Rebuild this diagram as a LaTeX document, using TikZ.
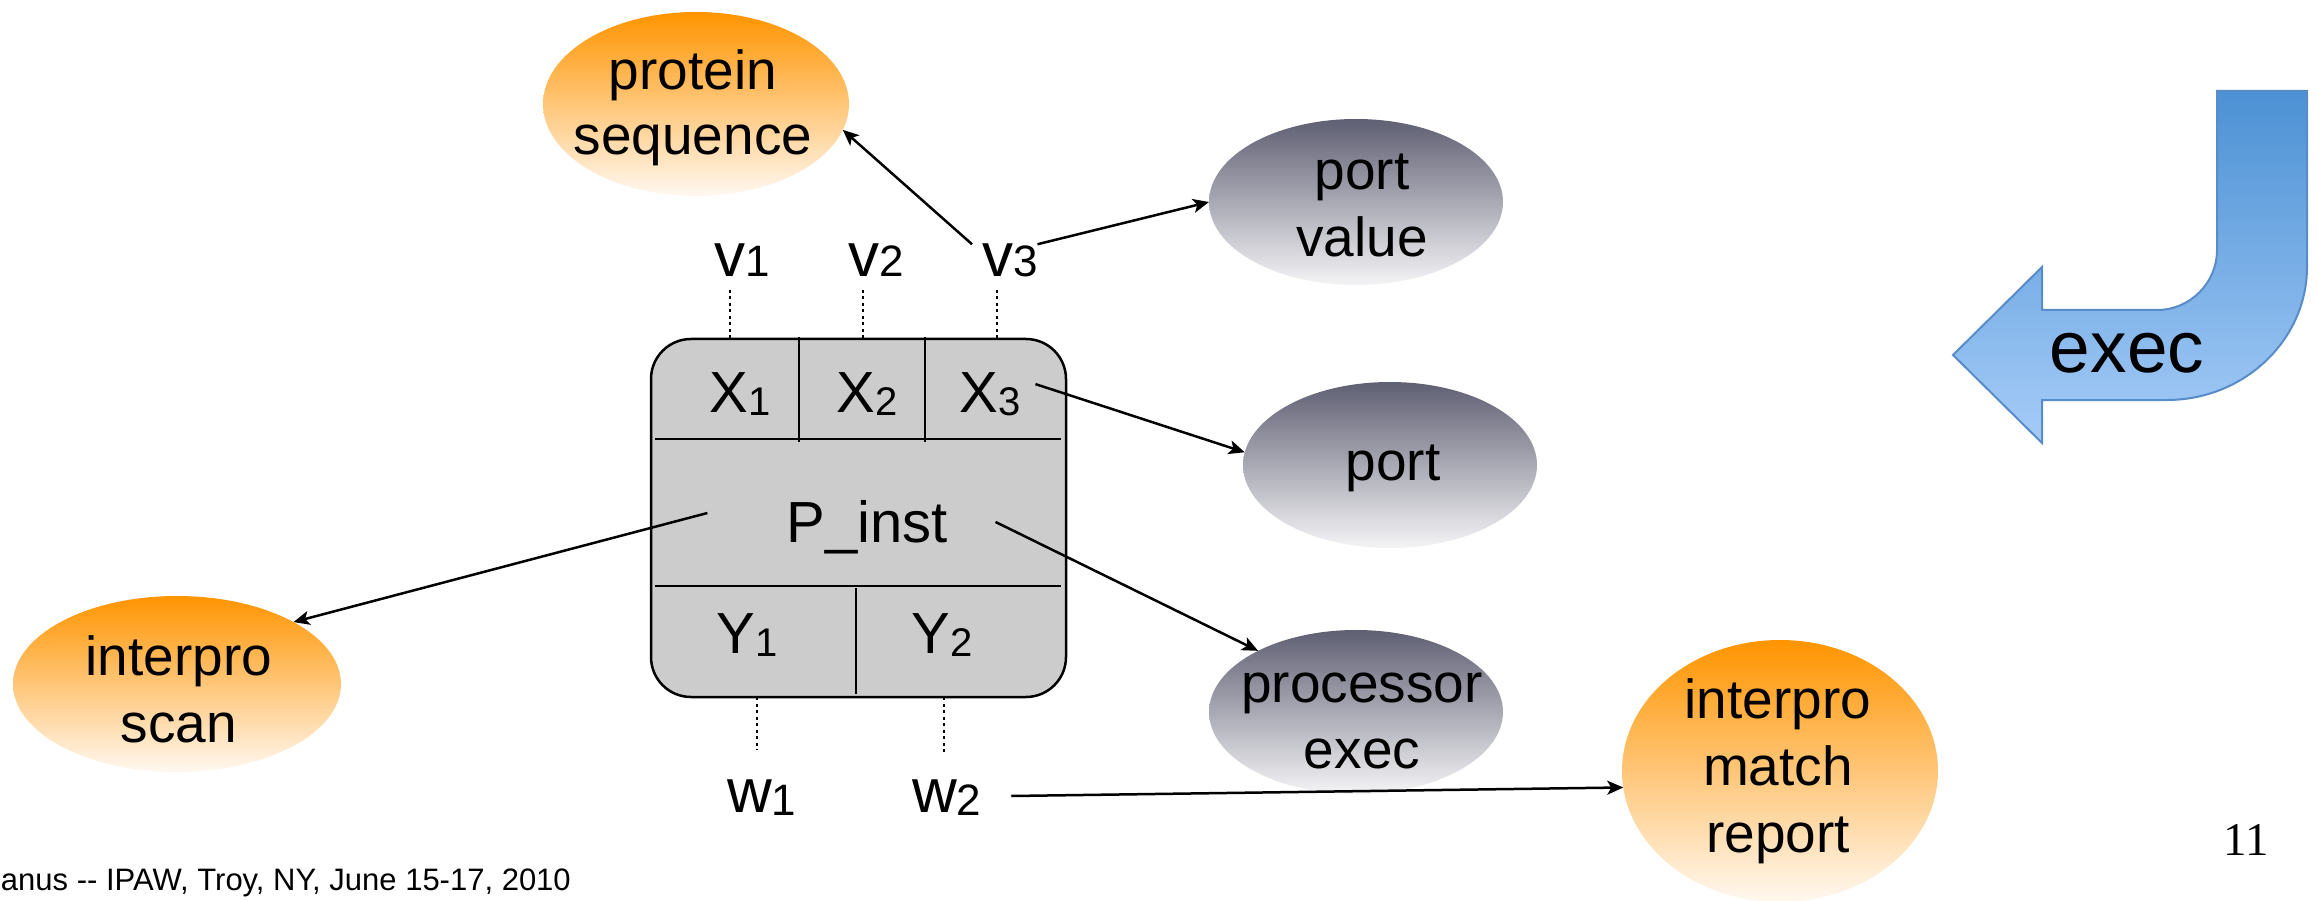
\documentclass[tikz,border=0pt]{standalone}
\usepackage{fontspec}
\setmainfont{Liberation Sans}
\newfontfamily\numfont{Liberation Serif}
\usetikzlibrary{arrows.meta,shapes.geometric}

\definecolor{orangeTop}{RGB}{255,148,0}
\definecolor{orangeBot}{RGB}{255,248,240}
\definecolor{slateTop}{RGB}{95,95,115}
\definecolor{slateBot}{RGB}{244,244,246}
\definecolor{blueTop}{RGB}{76,145,212}
\definecolor{blueBot}{RGB}{166,204,248}
\definecolor{blueEdge}{RGB}{88,140,200}
\definecolor{boxFill}{RGB}{204,204,204}

% index digit: #1 = lowering, #2 = size, #3 = digit
\newcommand\idx[3]{\raisebox{-#1pt}{\fontsize{#2}{#2}\selectfont #3}}

\begin{document}
\begin{tikzpicture}[x=1pt,y=-1pt,
  every node/.style={inner sep=0pt, outer sep=0pt},
  orangeblob/.style={ellipse, top color=orangeTop, bottom color=orangeBot, draw=none},
  slateblob/.style={ellipse, top color=slateTop, bottom color=slateBot, draw=none},
  blobtext/.style={anchor=base, font=\fontsize{55}{66}\selectfont},
  celltext/.style={anchor=base, font=\fontsize{58}{70}\selectfont},
  portname/.style={anchor=base west, font=\fontsize{62}{74}\selectfont},
  link/.style={line width=2.5pt, -{Stealth[length=16pt,width=14pt,inset=4pt]}},
  tie/.style={line width=2.5pt, dash pattern=on 3pt off 3.5pt},
  rule/.style={line width=2.5pt}
]
\useasboundingbox (0,0) rectangle (2322,901);
\clip (0,0) rectangle (2322,901);

% data and provenance ellipses
\node[orangeblob, minimum width=306pt, minimum height=184pt] (prot) at (696,104) {};
\node[slateblob, minimum width=294pt, minimum height=166pt] (pval) at (1356,202) {};
\node[slateblob, minimum width=294pt, minimum height=166pt] (port) at (1390,465) {};
\node[slateblob, minimum width=294pt, minimum height=164pt] (pexec) at (1356,712) {};
\node[orangeblob, minimum width=328pt, minimum height=176pt] (iscan) at (177,684) {};
\node[orangeblob, minimum width=316pt, minimum height=262pt] (imr) at (1780,771) {};

\node[blobtext] (protA) at (693,90) {protein};
\node[blobtext] (protB) at (693,155) {sequence};
\node[blobtext] (pvalA) at (1362,190) {port};
\node[blobtext] (pvalB) at (1362,257) {value};
\node[blobtext] (portA) at (1393,480) {port};
\node[blobtext] (pexecA) at (1362,702) {processor};
\node[blobtext] (pexecB) at (1362,768) {exec};
\node[blobtext] (iscanA) at (179,675) {interpro};
\node[blobtext] (iscanB) at (179,742) {scan};
\node[blobtext] (imrA) at (1778,718) {interpro};
\node[blobtext] (imrB) at (1778,785) {match};
\node[blobtext] (imrC) at (1778,852) {report};

% processor instance box
\node[draw, line width=2.5pt, fill=boxFill, rounded corners=40pt,
      minimum width=415pt, minimum height=358pt] (pbox) at (858.5,518) {};
\draw[rule] (655,439) -- (1061,439);
\draw[rule] (655,586) -- (1061,586);
\draw[rule] (799,337) -- (799,442);
\draw[rule] (925,337) -- (925,442);
\draw[rule] (856,588) -- (856,694);

\node[celltext] (x1) at (740,412) {X\idx{3}{40}{1}};
\node[celltext] (x2) at (867,412) {X\idx{3}{40}{2}};
\node[celltext] (x3) at (990,412) {X\idx{3}{40}{3}};
\node[celltext] (pinst) at (867,542) {P\_inst};
\node[celltext] (y1) at (747,653) {Y\idx{3}{40}{1}};
\node[celltext] (y2) at (942,653) {Y\idx{3}{40}{2}};

% port values
\node[portname] (v1) at (714,277) {v\idx{0}{44}{1}};
\node[portname] (v2) at (848,277) {v\idx{0}{44}{2}};
\node[portname] (v3) at (982,277) {v\idx{0}{44}{3}};
\node[portname] (w1) at (727,812) {w\idx{3}{44}{1}};
\node[portname] (w2) at (912,812) {w\idx{3}{44}{2}};

\draw[tie] (730,290) -- (730,0 |- pbox.north);
\draw[tie] (863,290) -- (863,0 |- pbox.north);
\draw[tie] (997,290) -- (997,0 |- pbox.north);
\draw[tie] (757,0 |- pbox.south) -- (757,750);
\draw[tie] (944,0 |- pbox.south) -- (944,752);

% relations
\draw[link] ([shift={(-10,0)}]v3.north west) -- (prot.-10);
\draw[link] (v3.north east) -- (pval.west);
\draw[link] ([shift={(15,12)}]x3.north east) -- (port.175);
\draw[link] ([shift={(-79,-29)}]pinst.base west) -- (iscan.28);
\draw[link] ([shift={(48,-20)}]pinst.base east) -- (pexec.148);
\draw[link] ([shift={(30,-16)}]w2.base east) -- (imr.186);

% bent exec arrow
\path[draw=blueEdge, line width=2pt, top color=blueTop, bottom color=blueBot]
  (2217,91) -- (2217,250) .. controls (2217,283) and (2190,310) .. (2157,310)
  -- (2042,310) -- (2042,267) -- (1953,355) -- (2042,443) -- (2042,400)
  -- (2167,400) .. controls (2244,400) and (2307,340) .. (2307,267)
  -- (2307,91) -- cycle;
\node[anchor=base, font=\fontsize{73}{80}\selectfont] (execlbl) at (2127,373) {exec};

% footer and page number
\node[anchor=base west, font=\fontsize{31}{36}\selectfont] (foot) at (1,890)
  {anus -{}- IPAW, Troy, NY, June 15-17, 2010};
\node[anchor=base, font=\numfont\fontsize{47}{50}\selectfont] (pgno) at (2246,855) {11};
\end{tikzpicture}
\end{document}
